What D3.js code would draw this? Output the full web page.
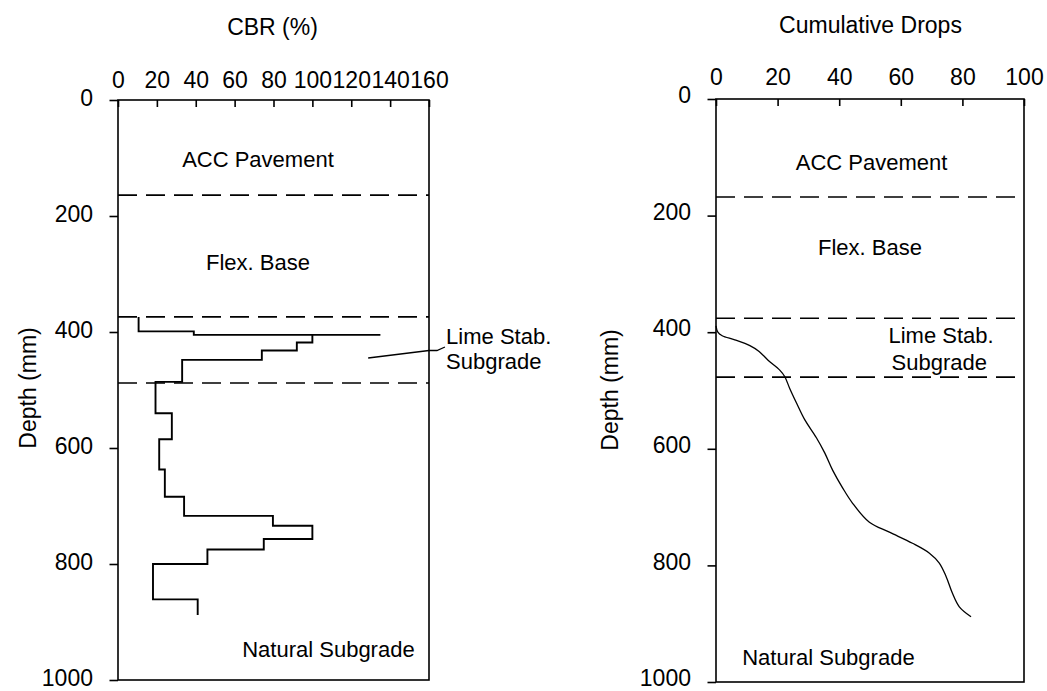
<!DOCTYPE html>
<html>
<head>
<meta charset="utf-8">
<script src="https://cdn.jsdelivr.net/npm/d3@7"></script>
<style>
  html, body { margin: 0; padding: 0; background: #fff; }
  svg { display: block; }
  text { font-family: "Liberation Sans", Arial, sans-serif; fill: #000; }
</style>
</head>
<body>
<svg id="chart" width="1047" height="691"></svg>
<script>
// Depth axis shared by both profiles (mm)
const depthTicks = [0, 200, 400, 600, 800, 1000];

// DCP-derived CBR profile: stepped trace, listed as (CBR %, depth mm) vertices
const cbrTicks = [0, 20, 40, 60, 80, 100, 120, 140, 160];
const cbrValues = [10.6, 10.6, 39, 39, 135, 100, 100, 92, 92, 74, 74, 33, 33, 19.3, 19.3, 27.7, 27.7, 21.2, 21.2, 24.1, 24.1, 34, 34, 79.7, 79.7, 100, 100, 75, 75, 46, 46, 18, 18, 41, 41];
const cbrDepths = [374, 399, 399, 405, 405, 405, 418, 418, 432, 432, 448, 448, 486, 486, 540, 540, 585, 585, 637, 637, 684, 684, 717, 717, 734, 734, 757, 757, 775, 775, 800, 800, 861, 861, 888];
const cbrLayerBounds = [164, 374, 488];

// Cumulative blow count against penetration depth
const dropTicks = [0, 20, 40, 60, 80, 100];
const dropValues = [0, 0.6, 2, 6.1, 11, 14, 16.9, 20.7, 22.3, 23.9, 26.1, 28.8, 32.6, 35.3, 37.9, 41.1, 44.3, 49.8, 56.3, 63.8, 69.3, 72.5, 74.7, 76.7, 79, 82.8];
const dropDepths = [389, 400, 406, 413, 423, 433, 448, 465, 476, 496, 521, 550, 581, 607, 637, 667, 693, 726, 743, 762, 779, 796, 819, 847, 871, 888];
const dropLayerBounds = [168, 376, 477];

// Layer names and where they sit (x in axis units, baseline depth in mm)
const cbrLayerLabels = [
  { text: "ACC Pavement", x: 72, d: 116, anchor: "middle" },
  { text: "Flex. Base", x: 72, d: 293, anchor: "middle" },
  { text: "Natural Subgrade", x: 63.9, d: 960, anchor: "start" }
];
const cbrSideLabel = ["Lime Stab.", "Subgrade"];
const cbrLeader = [[128.7, 444.8], [160, 431.9], [164.1, 431.9], [168.2, 425.9]];

const dropLayerLabels = [
  { text: "ACC Pavement", x: 50.5, d: 122, anchor: "middle" },
  { text: "Flex. Base", x: 50, d: 268, anchor: "middle" },
  { text: "Lime Stab.", x: 56, d: 418, anchor: "start" },
  { text: "Subgrade", x: 57, d: 464, anchor: "start" },
  { text: "Natural Subgrade", x: 8.5, d: 971, anchor: "start" }
];

const FS_TICK = 23;
const FS_TITLE = 23;
const FS_LABEL = 22;
const svg = d3.select("#chart");

function panel(opts) {
  const x = d3.scaleLinear().domain(opts.xDomain).range([opts.left, opts.right]);
  const y = d3.scaleLinear().domain([0, 1000]).range([opts.top, opts.bottom]);
  const g = svg.append("g");

  // frame
  g.append("rect")
    .attr("x", opts.left).attr("y", opts.top)
    .attr("width", opts.right - opts.left).attr("height", opts.bottom - opts.top)
    .attr("fill", "none").attr("stroke", "#000").attr("stroke-width", 1.6);

  // top axis, ticks pointing inward
  const ax = g.append("g").attr("transform", `translate(0,${opts.top})`)
    .call(d3.axisTop(x).tickValues(opts.xTicks).tickSize(-7).tickPadding(opts.topPad).tickFormat(d3.format("d")));
  ax.select(".domain").remove();
  ax.selectAll("line").attr("stroke", "#000").attr("stroke-width", 1.6);
  ax.selectAll("text").attr("font-size", FS_TICK).attr("font-family", null).attr("fill", "#000");

  // left depth axis, ticks pointing outward
  const ay = g.append("g").attr("transform", `translate(${opts.left},0)`)
    .call(d3.axisLeft(y).tickValues(depthTicks).tickSize(8.5).tickPadding(16.5).tickFormat(d3.format("d")));
  ay.select(".domain").remove();
  ay.selectAll("line").attr("stroke", "#000").attr("stroke-width", 1.6);
  ay.selectAll("text").attr("font-size", FS_TICK).attr("font-family", null).attr("fill", "#000").attr("dy", opts.yLabelDy);

  // axis titles
  g.append("text").attr("x", opts.titleX).attr("y", opts.titleY)
    .attr("text-anchor", "middle").attr("font-size", FS_TITLE).text(opts.title);
  g.append("text")
    .attr("transform", `translate(${opts.yTitleX},${opts.yTitleY}) rotate(-90)`)
    .attr("text-anchor", "middle").attr("dy", "0.35em").attr("font-size", FS_TITLE).text("Depth (mm)");

  // layer boundaries
  g.selectAll("line.bound").data(opts.bounds).join("line")
    .attr("class", "bound")
    .attr("x1", opts.left).attr("x2", opts.right)
    .attr("y1", d => y(d)).attr("y2", d => y(d))
    .attr("stroke", "#000").attr("stroke-width", 1.6).attr("stroke-dasharray", "19 9");

  return { g, x, y };
}

// ---- CBR profile ----
const p1 = panel({
  left: 118, right: 429, top: 100, bottom: 680,
  xDomain: [0, 160], xTicks: cbrTicks, topPad: 12, yLabelDy: "0.22em",
  title: "CBR (%)", titleX: 272.5, titleY: 35,
  yTitleX: 28, yTitleY: 388,
  bounds: cbrLayerBounds
});

const cbrLine = d3.line().x(d => p1.x(d[0])).y(d => p1.y(d[1]));
p1.g.append("path")
  .datum(cbrValues.map((v, i) => [v, cbrDepths[i]]))
  .attr("d", cbrLine)
  .attr("fill", "none").attr("stroke", "#000").attr("stroke-width", 1.9)
  .attr("stroke-linejoin", "miter");

p1.g.selectAll("text.layer").data(cbrLayerLabels).join("text")
  .attr("class", "layer")
  .attr("x", d => p1.x(d.x)).attr("y", d => p1.y(d.d))
  .attr("text-anchor", d => d.anchor).attr("font-size", FS_LABEL).text(d => d.text);

p1.g.append("path")
  .datum(cbrLeader)
  .attr("d", cbrLine)
  .attr("fill", "none").attr("stroke", "#000").attr("stroke-width", 1.3);

p1.g.selectAll("text.side").data(cbrSideLabel).join("text")
  .attr("class", "side")
  .attr("x", p1.x(168.8)).attr("y", (d, i) => p1.y(420 + i * 43.5))
  .attr("font-size", FS_LABEL).text(d => d);

// ---- Cumulative drops ----
const p2 = panel({
  left: 716, right: 1024, top: 99, bottom: 682,
  xDomain: [0, 100], xTicks: dropTicks, topPad: 14, yLabelDy: "0.16em",
  title: "Cumulative Drops", titleX: 870.5, titleY: 33,
  yTitleX: 610, yTitleY: 390,
  bounds: dropLayerBounds
});

p2.g.append("path")
  .datum(dropValues.map((v, i) => [v, dropDepths[i]]))
  .attr("d", d3.line().curve(d3.curveCatmullRom.alpha(0.5)).x(d => p2.x(d[0])).y(d => p2.y(d[1])))
  .attr("fill", "none").attr("stroke", "#000").attr("stroke-width", 1.3);

p2.g.selectAll("text.layer").data(dropLayerLabels).join("text")
  .attr("class", "layer")
  .attr("x", d => p2.x(d.x)).attr("y", d => p2.y(d.d))
  .attr("text-anchor", d => d.anchor).attr("font-size", FS_LABEL).text(d => d.text);
</script>
</body>
</html>
